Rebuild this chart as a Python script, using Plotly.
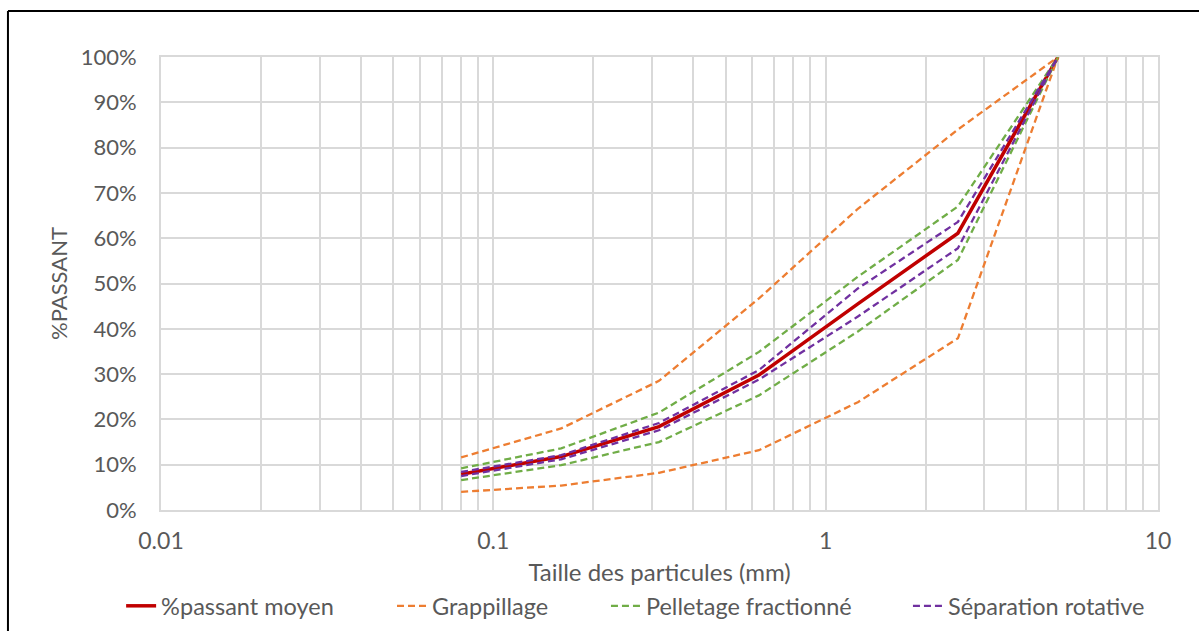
import plotly.graph_objects as go

sizes_mm = [0.08, 0.16, 0.315, 0.63, 1.25, 2.5, 5]

moyen = [7.9, 11.8, 18.4, 29.8, 45.5, 61.1, 100]
grapp_haut = [11.6, 18.0, 28.5, 46.7, 66.5, 84.0, 100]
grapp_bas = [4.0, 5.4, 8.2, 13.2, 23.8, 37.9, 100]
pellet_haut = [9.2, 13.6, 21.5, 34.9, 51.5, 67.0, 100]
pellet_bas = [6.6, 9.9, 15.0, 25.3, 39.4, 55.2, 100]
rot_haut = [8.4, 12.1, 19.2, 30.9, 48.9, 63.6, 100]
rot_bas = [7.5, 11.2, 17.6, 28.8, 42.7, 57.8, 100]

y_ticks = list(range(0, 101, 10))
y_tick_labels = [f"{v}%" for v in y_ticks]
x_ticks = [0.01, 0.1, 1, 10]
x_tick_labels = ["0.01", "0.1", "1", "10"]

FONT = "Lato"
GREY = "#595959"
GRID = "#D9D9D9"
LEG_FONT = dict(size=23.5, color=GREY, family=FONT)

fig = go.Figure()
fig.add_trace(go.Scatter(x=sizes_mm, y=moyen, mode="lines", name="%passant moyen",
                         legend="legend",
                         line=dict(color="#C00000", width=3.5)))
dash = "7px,4px"
series = [
    ("Grappillage", "#ED7D31", grapp_haut, grapp_bas, "legend2"),
    ("Pelletage fractionné", "#70AD47", pellet_haut, pellet_bas, "legend3"),
    ("Séparation rotative", "#7030A0", rot_haut, rot_bas, "legend4"),
]
for name, col, hi, lo, leg in series:
    fig.add_trace(go.Scatter(x=sizes_mm, y=hi, mode="lines", name=name, legendgroup=name,
                             legend=leg, line=dict(color=col, width=2.3, dash=dash)))
    fig.add_trace(go.Scatter(x=sizes_mm, y=lo, mode="lines", name=name, legendgroup=name,
                             legend=leg, showlegend=False,
                             line=dict(color=col, width=2.3, dash=dash)))

LEG_Y = -0.212
def leg(x):
    return dict(orientation="h", x=x, xanchor="left", y=LEG_Y, yanchor="middle",
                font=LEG_FONT, bgcolor="rgba(0,0,0,0)")

BX0, BY1 = -0.1535, 1.1015
fig.update_layout(
    width=1199, height=631,
    margin=dict(l=161, r=41, t=57, b=121, autoexpand=False),
    paper_bgcolor="white", plot_bgcolor="white",
    font=dict(family=FONT, color=GREY, size=23),
    showlegend=True,
    legend=leg(-0.04),
    legend2=leg(0.2317),
    legend3=leg(0.4463),
    legend4=leg(0.7492),
    shapes=[
        dict(type="line", xref="paper", yref="paper", x0=BX0, x1=BX0, y0=-0.4, y1=BY1,
             line=dict(color="black", width=2), layer="above"),
        dict(type="line", xref="paper", yref="paper", x0=BX0, x1=1.2, y0=BY1, y1=BY1,
             line=dict(color="black", width=2), layer="above"),
    ],
)
fig.update_xaxes(type="log", range=[-2, 1], tickvals=x_ticks, ticktext=x_tick_labels,
                 showgrid=True, gridcolor=GRID, gridwidth=2,
                 minor=dict(dtick="D1", showgrid=True, gridcolor=GRID, gridwidth=2, ticks=""),
                 showline=True, linecolor=GRID, linewidth=2, mirror=True,
                 ticks="outside", ticklen=9, tickcolor="rgba(0,0,0,0)", zeroline=False,
                 title=dict(text="Taille des particules (mm)", standoff=12,
                            font=dict(size=24, color=GREY)),
                 tickfont=dict(size=23, color=GREY))
fig.update_yaxes(range=[0, 100], tickvals=y_ticks, ticktext=y_tick_labels,
                 showgrid=True, gridcolor=GRID, gridwidth=2,
                 showline=True, linecolor=GRID, linewidth=2, mirror=True,
                 zeroline=False, ticks="outside", ticklen=18, tickcolor="rgba(0,0,0,0)",
                 title=dict(text="%PASSANT", standoff=7, font=dict(size=22, color=GREY)),
                 tickfont=dict(size=22, color=GREY))

fig.write_html("out.html", config={"displayModeBar": False},
               post_script="document.body.style.margin='0px';")
